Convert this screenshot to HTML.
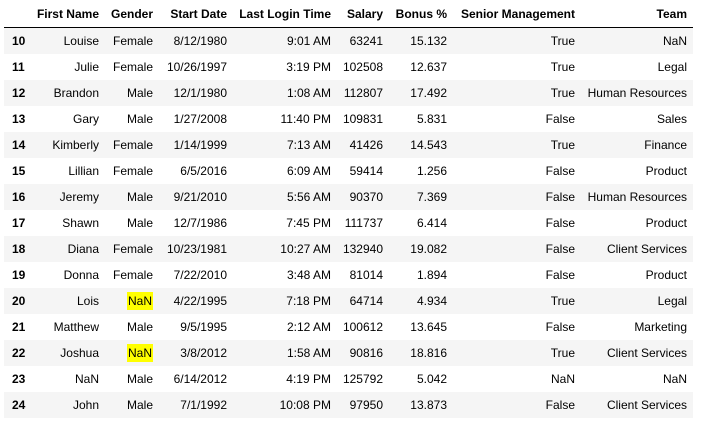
<!DOCTYPE html>
<html><head><meta charset="utf-8"><style>
body{margin:0;width:718px;height:422px;background:#fff;font-family:"Liberation Sans",Arial,sans-serif;font-size:12px;color:#000;position:relative;overflow:hidden}
.row{position:absolute;left:4px;width:689px;height:26px}
.row.odd{background:#f5f5f5}
.c{position:absolute;top:0;line-height:26px;white-space:nowrap;text-align:right}
.h{font-weight:bold}
.idx{font-weight:bold;left:8px;text-align:left}
.hl{background:#ffff00;padding:2px 1px}
#hdrline{position:absolute;left:4px;top:27px;width:689px;height:1px;background:#000}
</style></head><body>
<div id="hdr" class="row" style="top:1px"></div>
<div id="hdrline"></div>
<div id="body"></div>
<script>
const headers=["First Name","Gender","Start Date","Last Login Time","Salary","Bonus %","Senior Management","Team"];
const rights=[95,149,223,327,379,443,571,683];
const indexes=[10,11,12,13,14,15,16,17,18,19,20,21,22,23,24];
const firstNames=["Louise","Julie","Brandon","Gary","Kimberly","Lillian","Jeremy","Shawn","Diana","Donna","Lois","Matthew","Joshua","NaN","John"];
const genders=["Female","Female","Male","Male","Female","Female","Male","Male","Female","Female","NaN","Male","NaN","Male","Male"];
const startDates=["8/12/1980","10/26/1997","12/1/1980","1/27/2008","1/14/1999","6/5/2016","9/21/2010","12/7/1986","10/23/1981","7/22/2010","4/22/1995","9/5/1995","3/8/2012","6/14/2012","7/1/1992"];
const logins=["9:01 AM","3:19 PM","1:08 AM","11:40 PM","7:13 AM","6:09 AM","5:56 AM","7:45 PM","10:27 AM","3:48 AM","7:18 PM","2:12 AM","1:58 AM","4:19 PM","10:08 PM"];
const salaries=["63241","102508","112807","109831","41426","59414","90370","111737","132940","81014","64714","100612","90816","125792","97950"];
const bonuses=["15.132","12.637","17.492","5.831","14.543","1.256","7.369","6.414","19.082","1.894","4.934","13.645","18.816","5.042","13.873"];
const senior=["True","True","True","False","True","False","False","False","False","False","True","False","True","NaN","False"];
const teams=["NaN","Legal","Human Resources","Sales","Finance","Product","Human Resources","Product","Client Services","Product","Legal","Marketing","Client Services","NaN","Client Services"];
const names=["first-name","gender","start-date","last-login-time","salary","bonus","senior-management","team"];
const hdr=document.getElementById('hdr');
headers.forEach((h,i)=>{
  const d=document.createElement('div');
  d.className='c h';
  d.style.right=(689-rights[i])+'px';
  d.textContent=h;
  
  
  hdr.appendChild(d);
});
const body=document.getElementById('body');
indexes.forEach((ix,r)=>{
  const row=document.createElement('div');
  row.className='row'+(r%2===0?' odd':'');
  row.style.top=(28+r*26)+'px';
  
  
  const id=document.createElement('div');
  id.className='c idx';
  id.textContent=ix;
  
  
  row.appendChild(id);
  const vals=[firstNames[r],genders[r],startDates[r],logins[r],salaries[r],bonuses[r],senior[r],teams[r]];
  vals.forEach((v,i)=>{
    const c=document.createElement('div');
    c.className='c';
    c.style.right=(689-rights[i])+'px';
    if(i===1&&v==='NaN'){
      const s=document.createElement('span');
      s.className='hl';
      s.textContent=v;
      c.appendChild(s);
    } else c.textContent=v;
    
    
    row.appendChild(c);
  });
  body.appendChild(row);
});
</script>
</body></html>
